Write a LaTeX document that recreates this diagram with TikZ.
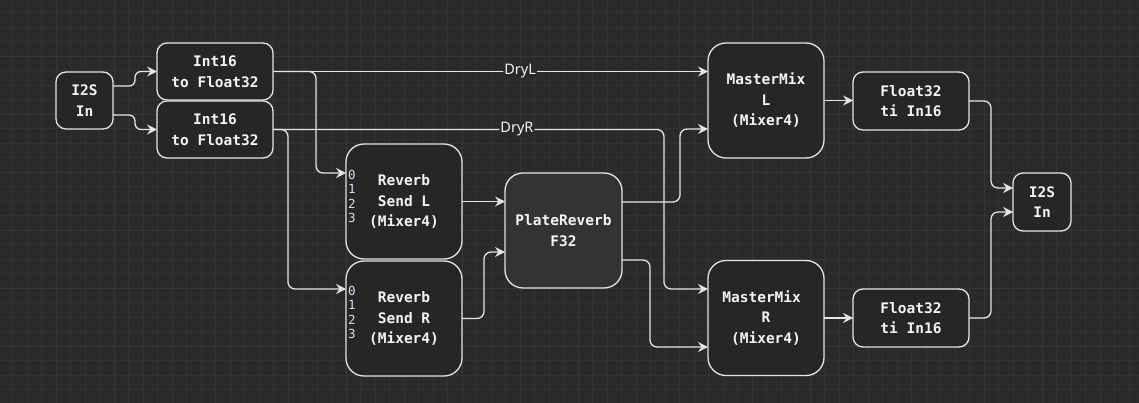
\documentclass[tikz,border=0pt]{standalone}
\usepackage{fontspec}
\usetikzlibrary{arrows.meta}
\newfontfamily\monofont{DejaVu Sans Mono}
\newfontfamily\labelfont{Noto Sans}
\definecolor{bg}{HTML}{2A2A2A}
\definecolor{gridminor}{HTML}{323232}
\definecolor{gridmajor}{HTML}{3D3333}
\definecolor{nodefill}{HTML}{262626}
\definecolor{platefill}{HTML}{333333}
\definecolor{stroke}{HTML}{E4E4E4}
\definecolor{txt}{HTML}{F4F4F4}
\definecolor{porttxt}{HTML}{CFE0F5}
\begin{document}
\begin{tikzpicture}[x=1pt,y=-1pt,
  block/.style={draw=stroke, line width=1.3pt, fill=nodefill, rounded corners=10pt,
    inner sep=0pt, outer sep=0pt, text=txt, align=center,
    font=\monofont\bfseries\fontsize{14.5}{20.5}\selectfont},
  small/.style={block, minimum width=57pt, minimum height=57pt},
  wide/.style={block, minimum width=116pt, minimum height=57pt},
  big/.style={block, rounded corners=18pt, minimum width=116pt, minimum height=115pt},
  port/.style={inner sep=0pt, align=left, text=porttxt, anchor=west,
    font=\monofont\fontsize{12.5}{14.5}\selectfont},
  lbl/.style={fill=bg, inner sep=1pt, text=txt, font=\labelfont\fontsize{14.5}{16}\selectfont},
  edge/.style={draw=stroke, line width=1.3pt, rounded corners=7pt,
    -{Stealth[length=10pt,width=10pt,inset=3.5pt]}}
]
\fill[bg] (0,0) rectangle (1139,403);
\useasboundingbox (0,0) rectangle (1139,403);
\begin{scope}
  \clip (0,0) rectangle (1139,403);
  \foreach \i in {0,...,79} \draw[gridminor, line width=0.8pt] ({-2+14.5*\i},0) -- ++(0,403);
  \foreach \i in {0,...,28} \draw[gridminor, line width=0.8pt] (0,{-2+14.5*\i}) -- ++(1139,0);
  \foreach \i in {0,...,20} \draw[gridmajor, line width=0.9pt] ({-2+58*\i},0) -- ++(0,403);
  \foreach \i in {0,...,7} \draw[gridmajor, line width=0.9pt] (0,{-2+58*\i}) -- ++(1139,0);
\end{scope}

% nodes
\node[small] (in1) at (84.5,100.5) {I2S\\In};
\node[wide] (i2f1) at (215,71.5) {Int16\\to Float32};
\node[wide] (i2f2) at (215,129.5) {Int16\\to Float32};
\node[big] (rsl) at (404,201.5) {Reverb\\Send L\\(Mixer4)};
\node[big] (rsr) at (404,318.5) {Reverb\\Send R\\(Mixer4)};
\node[big, fill=platefill, minimum width=117pt] (plate) at (563.5,230.5) {PlateReverb\\F32};
\node[big] (mml) at (766,100.5) {MasterMix\\L\\(Mixer4)};
\node[big] (mmr) at (766,318) {MasterMix\phantom{x}\\R\\(Mixer4)};
\node[wide, minimum height=58pt] (f2i1) at (911,101) {Float32\\ti In16};
\node[wide, minimum height=58pt] (f2i2) at (911,318) {Float32\\ti In16};
\node[small, minimum width=58pt, minimum height=58pt] (out) at (1042,202) {I2S\\In};

\node[port] (rslports) at ([xshift=2pt,yshift=5pt]rsl.west) {0\\1\\2\\3};
\node[port] (rsrports) at ([xshift=2pt,yshift=6pt]rsr.west) {0\\1\\2\\3};

% edges
\draw[edge, rounded corners=6pt] ([yshift=14.5pt]in1.east) -- ++(22,0) |- (i2f1.west);
\draw[edge, rounded corners=6pt] ([yshift=-14.5pt]in1.east) -- ++(22,0) |- (i2f2.west);
\draw[edge] (i2f1.east) -- node[lbl, pos=0.568] (lblL) {DryL} ([yshift=29pt]mml.west);
\draw[edge] (i2f1.east) -- ++(43,0) |- ([yshift=28.5pt]rsl.west);
\draw[edge] (i2f2.east) -- node[lbl, pos=0.624] (lblR) {DryR} ++(391,0) |- ([yshift=29pt]mmr.west);
\draw[edge] (i2f2.east) -- ++(15,0) |- ([yshift=29.5pt]rsr.west);
\draw[edge] (rsl.east) -- (rsl.east -| plate.west);
\draw[edge] (rsr.east) -- ++(22,0) |- ([yshift=-21.5pt]plate.west);
\draw[edge] ([yshift=28.5pt]plate.east) -- ++(58,0) |- ([yshift=-28.5pt]mml.west);
\draw[edge] ([yshift=-29.5pt]plate.east) -- ++(28,0) |- ([yshift=-29pt]mmr.west);
\draw[edge] (mml.east) -- (mml.east -| f2i1.west);
\draw[edge] (mmr.east) -- (mmr.east -| f2i2.west);
\draw[edge] (f2i1.east) -- ++(22,0) |- ([yshift=14pt]out.west);
\draw[edge] (f2i2.east) -- ++(22,0) |- ([yshift=-10pt]out.west);
\end{tikzpicture}
\end{document}
